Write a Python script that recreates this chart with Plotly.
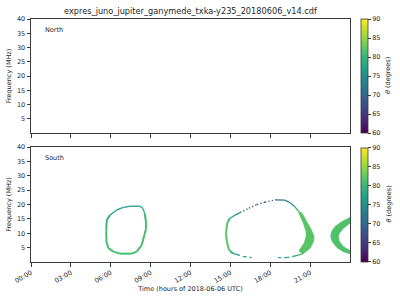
import plotly.graph_objects as go
from plotly.colors import sample_colorscale

TITLE = "expres_juno_jupiter_ganymede_txka-y235_20180606_v14.cdf"
X_TITLE = "Time (hours of 2018-06-06 UTC)"
Y_TITLE = "Frequency (MHz)"
CB_TITLE = "<i>θ</i> (degrees)"
hemispheres = ["North", "South"]

hour_ticks = [0, 3, 6, 9, 12, 15, 18, 21]
hour_labels = ["00:00", "03:00", "06:00", "09:00", "12:00", "15:00", "18:00", "21:00"]
freq_ticks = [5, 10, 15, 20, 25, 30, 35, 40]
theta_ticks = [60, 65, 70, 75, 80, 85, 90]
theta_min, theta_max = 60, 90

# --- South emission (time in hours, frequency in MHz, theta in degrees)
# ring around 06-09 h
ring1_t = [7.0, 6.7, 6.2, 5.82, 5.68, 5.66, 5.7, 5.94, 6.45, 6.95, 7.5, 8.2, 8.4, 8.55, 8.65, 8.65, 8.53, 8.33, 7.95, 7.58, 7.0]
ring1_f = [2.9, 2.9, 3.6, 4.8, 7.0, 11.0, 14.6, 16.3, 18.1, 19.0, 19.4, 19.4, 18.8, 17.0, 14.0, 11.5, 9.4, 5.9, 3.6, 2.9, 2.9]
ring1_theta = [81, 81, 81, 81, 81, 81, 80, 79, 77, 76, 76, 76, 77, 80, 81, 81, 81, 81, 81, 81, 81]

# ring around 15-21 h : left arc (solid)
ring2_left_t = [15.5, 15.2, 14.97, 14.85, 14.75, 14.67, 14.72, 14.8, 14.97, 15.35, 15.73]
ring2_left_f = [2.6, 3.0, 3.8, 4.8, 7.0, 9.5, 12.0, 14.0, 15.2, 16.3, 17.2]
ring2_left_theta = [77, 79, 81, 82, 82, 82, 82, 81, 79, 77, 75]
# upper-left arc (sparse, dotted)
ring2_dot_t = [15.73, 16.4, 17.0, 17.6, 18.36]
ring2_dot_f = [17.2, 18.7, 20.0, 20.8, 21.6]
ring2_dot_theta = [73, 69, 67, 67, 70]
# top arc (solid)
ring2_top_t = [18.36, 19.1, 19.5, 19.8, 20.1]
ring2_top_f = [21.6, 21.5, 20.6, 19.5, 17.8]
ring2_top_theta = [71, 72, 74, 77, 80]
# bottom arcs (sparse, dashed)
ring2_botl_t = [15.5, 16.0, 16.6]
ring2_botl_f = [2.6, 1.9, 1.5]
ring2_botl_theta = [76, 76, 76]
ring2_botr_t = [18.6, 19.2, 19.7]
ring2_botr_f = [1.5, 1.5, 1.9]
ring2_botr_theta = [76, 77, 78]
ring2_botr_solid_t = [19.7, 20.1, 20.5]
ring2_botr_solid_f = [1.9, 2.4, 3.0]
ring2_botr_solid_theta = [79, 80, 81]
# thick crescent on the right of the ring (filled)
crescA_t = [20.1, 20.4, 20.75, 21.1, 21.3, 21.25, 21.0, 20.5, 20.2, 20.2, 20.55, 20.7, 20.7, 20.5, 20.25, 20.1]
crescA_f = [17.8, 16.9, 14.0, 11.1, 8.8, 7.1, 4.8, 3.0, 3.6, 4.2, 6.5, 8.8, 10.5, 13.5, 16.0, 17.8]
crescA_theta = 82

# crescent at the end of the day (filled)
crescB_t = [24.0, 23.88, 23.38, 22.87, 22.62, 22.55, 22.67, 23.0, 23.5, 23.93, 24.0,
            24.0, 23.93, 23.5, 23.2, 23.12, 23.2, 23.5, 23.93, 24.0]
crescB_f = [15.5, 15.2, 14.0, 12.3, 10.5, 8.8, 7.1, 5.1, 3.6, 3.0, 2.95,
            4.1, 4.2, 5.3, 7.1, 8.8, 10.0, 11.7, 13.5, 13.6]
crescB_theta = 81.5


def theta_color(th):
    return sample_colorscale("Viridis", [(th - theta_min) / (theta_max - theta_min)])[0]


FONT = "DejaVu Sans"
INK = "#262626"
AX = "#3a3a3a"

fig = go.Figure()


def add_arc(ts, fs, ths, width=2.0, dash="solid", thin=None):
    for i in range(len(ts) - 1):
        th = 0.5 * (ths[i] + ths[i + 1])
        w = thin if (thin is not None and th < 79) else width
        fig.add_trace(go.Scatter(
            x=[ts[i], ts[i + 1]], y=[fs[i], fs[i + 1]], mode="lines",
            line=dict(color=theta_color(th), width=w, dash=dash),
            xaxis="x2", yaxis="y2", hoverinfo="skip", showlegend=False))


def add_fill(ts, fs, th):
    c = theta_color(th)
    fig.add_trace(go.Scatter(
        x=ts, y=fs, mode="lines", fill="toself", fillcolor=c,
        line=dict(color=c, width=0.8), xaxis="x2", yaxis="y2",
        hoverinfo="skip", showlegend=False))


add_arc(ring1_t, ring1_f, ring1_theta, width=2.0, thin=1.3)
add_arc(ring2_left_t, ring2_left_f, ring2_left_theta, width=2.0, thin=1.3)
add_arc(ring2_dot_t, ring2_dot_f, ring2_dot_theta, width=1.4, dash="1.3px,2.2px")
add_arc(ring2_top_t, ring2_top_f, ring2_top_theta, width=1.3)
add_arc(ring2_botl_t, ring2_botl_f, ring2_botl_theta, width=1.3, dash="3px,3px")
add_arc(ring2_botr_t, ring2_botr_f, ring2_botr_theta, width=1.3, dash="3px,3px")
add_arc(ring2_botr_solid_t, ring2_botr_solid_f, ring2_botr_solid_theta, width=1.5)
add_fill(crescA_t, crescA_f, crescA_theta)
add_fill(crescB_t, crescB_f, crescB_theta)

# dummy traces carrying the colour axes (colorbars)
fig.add_trace(go.Scatter(x=[None], y=[None], mode="markers",
                         marker=dict(color=[theta_min], coloraxis="coloraxis"),
                         xaxis="x", yaxis="y", showlegend=False, hoverinfo="skip"))
fig.add_trace(go.Scatter(x=[None], y=[None], mode="markers",
                         marker=dict(color=[theta_min], coloraxis="coloraxis2"),
                         xaxis="x2", yaxis="y2", showlegend=False, hoverinfo="skip"))

W, H = 400, 300
ML, MR, MT, MB = 31, 50, 19, 38
PW, PH = W - ML - MR, H - MT - MB
top_dom = [(262 - 133) / PH, 1.0]
bot_dom = [0.0, (262 - 147) / PH]

tickfont = dict(family=FONT, size=6.5, color=INK)


def xaxis(show_labels, anchor):
    return dict(range=[0, 24], tickvals=hour_ticks, ticktext=hour_labels,
                showticklabels=show_labels, tickangle=-30,
                ticks="outside", ticklen=3.5, tickwidth=0.8, tickcolor=AX,
                showline=True, linewidth=1, linecolor=AX, mirror=True,
                showgrid=False, zeroline=False, tickfont=tickfont,
                anchor=anchor, domain=[0, 1])


def yaxis(dom, anchor):
    return dict(range=[0, 40], tickvals=freq_ticks,
                ticks="outside", ticklen=3.5, tickwidth=0.8, tickcolor=AX,
                showline=True, linewidth=1, linecolor=AX, mirror=True,
                showgrid=False, zeroline=False, tickfont=tickfont,
                title=dict(text=Y_TITLE, font=dict(family=FONT, size=6.5, color=INK), standoff=4),
                anchor=anchor, domain=dom)


def cbar(ycen):
    return dict(x=(361 - ML) / PW, xanchor="left", y=ycen, yanchor="middle",
                thickness=6.5, len=114, lenmode="pixels", ypad=0, xpad=0,
                outlinewidth=0.8, outlinecolor=AX,
                tickvals=theta_ticks, ticks="outside", ticklen=3, tickwidth=0.8,
                tickcolor=AX, tickfont=tickfont)


fig.update_layout(
    width=W, height=H, margin=dict(l=ML, r=MR, t=MT, b=MB, autoexpand=False),
    paper_bgcolor="white", plot_bgcolor="white",
    font=dict(family=FONT, size=6.5, color=INK),
    title=dict(text=TITLE, x=190.5 / W, xanchor="center", y=1 - 11 / H, yanchor="middle",
               font=dict(family=FONT, size=8.2, color=INK)),
    xaxis=xaxis(False, "y"),
    yaxis=yaxis(top_dom, "x"),
    xaxis2=xaxis(True, "y2"),
    yaxis2=yaxis(bot_dom, "x2"),
    coloraxis=dict(colorscale="Viridis", cmin=theta_min, cmax=theta_max,
                   colorbar=cbar((262 - 76) / PH)),
    coloraxis2=dict(colorscale="Viridis", cmin=theta_min, cmax=theta_max,
                    colorbar=cbar((262 - 204.5) / PH)),
    showlegend=False,
)
fig.update_layout(xaxis2_title=dict(text=X_TITLE, font=dict(family=FONT, size=6.5, color=INK), standoff=2))

# hemisphere labels
for name, yref in zip(hemispheres, ["y domain", "y2 domain"]):
    fig.add_annotation(text=name, xref="x domain", yref=yref, x=0.038, y=0.905,
                       xanchor="left", yanchor="middle", showarrow=False,
                       font=dict(family=FONT, size=6.5, color=INK))
# colorbar labels
for yc in [(262 - 76) / PH, (262 - 204.5) / PH]:
    fig.add_annotation(text=CB_TITLE, xref="paper", yref="paper", x=(388 - ML) / PW, y=yc,
                       xanchor="center", yanchor="middle", textangle=-90, showarrow=False,
                       font=dict(family=FONT, size=6.5, color=INK))

fig.write_html("out.html")
